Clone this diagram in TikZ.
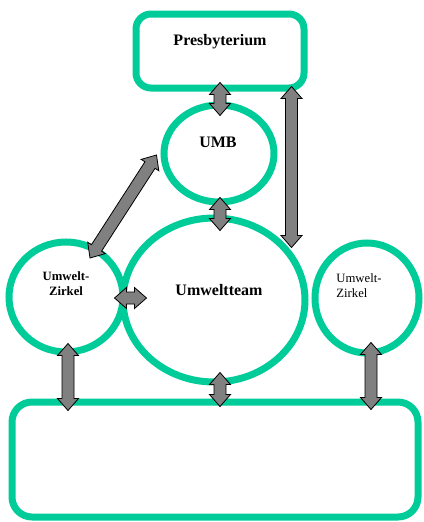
\documentclass[tikz,border=0pt]{standalone}
\usepackage{fontspec}
\setmainfont{Liberation Serif}
\usepackage{tikz}
\usetikzlibrary{calc,shapes.geometric}
\definecolor{umweltgreen}{RGB}{0,204,153}
\definecolor{arrgray}{RGB}{128,128,128}
\newcommand{\bigtxt}{\fontsize{16}{19}\selectfont\bfseries}
\newcommand{\smalltxt}{\fontsize{12.7}{15}\selectfont}
% double block arrow between two coordinates
\newcommand{\blockarr}[2]{%
 \filldraw[fill=arrgray,draw=black,line width=0.8pt,line join=miter]
 (#1) -- ($(#1)!12pt!(#2)!10.5pt!90:(#2)$) -- ($(#1)!12pt!(#2)!6pt!90:(#2)$)
 -- ($(#2)!12pt!(#1)!6pt!-90:(#1)$) -- ($(#2)!12pt!(#1)!10.5pt!-90:(#1)$)
 -- (#2) -- ($(#2)!12pt!(#1)!10.5pt!90:(#1)$) -- ($(#2)!12pt!(#1)!6pt!90:(#1)$)
 -- ($(#1)!12pt!(#2)!6pt!-90:(#2)$) -- ($(#1)!12pt!(#2)!10.5pt!-90:(#2)$) -- cycle;}
\tikzset{
 greenline/.style={draw=umweltgreen, line width=7pt},
 gbox/.style={greenline, rectangle, rounded corners=15pt, inner sep=0pt},
 gcirc/.style={greenline, ellipse, inner sep=0pt}
}
\begin{document}
\begin{tikzpicture}[x=1pt,y=-1pt]
\useasboundingbox (0,0) rectangle (423,522);

\node[gbox, minimum width=168pt, minimum height=74pt,
 label={[name=presbtxt,yshift=9pt,font=\bigtxt]center:Presbyterium}] (presb) at (220,51) {};
\node[gcirc, minimum width=110pt, minimum height=97pt,
 label={[name=umbtxt,xshift=-1pt,yshift=11.5pt,font=\bigtxt]center:UMB}] (umb) at (219,153.5) {};
\node[gcirc, minimum width=182pt, minimum height=164pt,
 label={[name=teamtxt,xshift=5pt,yshift=10pt,font=\bigtxt]center:Umweltteam}] (team) at (214,300) {};
\node[gcirc, minimum width=114pt, minimum height=110pt,
 label={[name=zltxt,yshift=13pt,align=center,font=\smalltxt\bfseries]center:Umwelt-\\Zirkel}] (zl) at (66,297) {};
\node[gcirc, minimum width=104pt, minimum height=110pt,
 label={[name=zrtxt,xshift=-8pt,yshift=12pt,align=left,font=\smalltxt]center:Umwelt-\\Zirkel}] (zr) at (367,298) {};
\node[gbox, rounded corners=20pt, minimum width=406pt, minimum height=115pt] (bot) at (215,459.5) {};

% arrow ends
\coordinate (p1) at ($(presb.south)+(0,-9)$);
\coordinate (u1) at ($(p1 |- umb.north)+(0,14)$);
\coordinate (u2) at ($(p1 |- umb.south)+(0,-8)$);
\coordinate (t1) at ($(p1 |- team.north)+(0,16)$);
\coordinate (p2) at ($(presb.south east)+(-16,-5)$);
\coordinate (t2) at ($(p2 |- team.north)+(0,33)$);
\coordinate (u3) at ($(umb.west)+(-4,1.5)$);
\coordinate (z1) at ($(zl.center)+(24,-39)$);
\coordinate (z2) at ($(zl.east)+(-12,1)$);
\coordinate (t3) at ($(z2)+(32,0)$);
\coordinate (z3) at ($(zl.south)+(2,-12)$);
\coordinate (b1) at ($(z3 |- bot.north)+(0,12)$);
\coordinate (t4) at ($(team.south)+(6,-13)$);
\coordinate (b2) at ($(t4 |- bot.north)+(0,8)$);
\coordinate (z4) at ($(zr.south)+(4,-14)$);
\coordinate (b3) at ($(z4 |- bot.north)+(0,11)$);

\blockarr{p1}{u1}
\blockarr{u2}{t1}
\blockarr{p2}{t2}
\blockarr{z1}{u3}
\blockarr{z2}{t3}
\blockarr{z3}{b1}
\blockarr{t4}{b2}
\blockarr{z4}{b3}

\end{tikzpicture}
\end{document}
